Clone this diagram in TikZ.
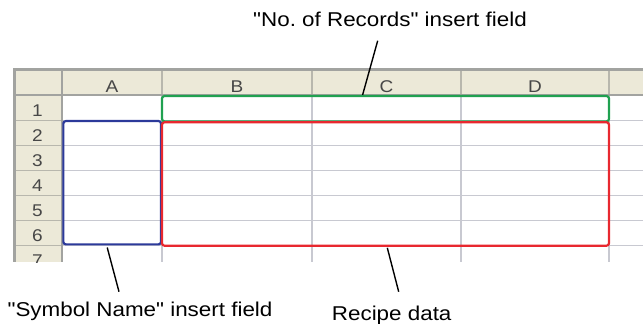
\documentclass[tikz,border=0pt]{standalone}
\usepackage{fontspec}
\setmainfont{Liberation Sans}
\newfontfamily\calloutfont[FakeStretch=1.12]{Liberation Sans}
\usetikzlibrary{positioning, calc}
\definecolor{hdrfill}{HTML}{ECE9D8}
\definecolor{gridgray}{HTML}{C8C9D1}
\definecolor{framegray}{HTML}{A2A3A0}
\definecolor{hdrline}{HTML}{B8B7AD}
\definecolor{symblue}{HTML}{2C3A9A}
\definecolor{recgreen}{HTML}{20A150}
\definecolor{recred}{HTML}{E8282F}
\frenchspacing

\begin{document}
\begin{tikzpicture}[x=1pt, y=-1pt,
    grid/.style={gridgray, line width=1.3pt},
    hdrsep/.style={hdrline, line width=1.3pt},
    hdr/.style={font=\calloutfont\fontsize{17}{17}\selectfont, text=black!72, inner sep=0pt},
    field/.style={draw, line width=2.2pt, rounded corners=2.5pt, inner sep=0pt},
    callout/.style={font=\calloutfont\fontsize{20}{22}\selectfont, inner sep=0pt},
    lead/.style={line width=1.4pt}
  ]
  \useasboundingbox (0,0) rectangle (643,324);

  % worksheet, cut off at row 7
  \begin{scope}
    \clip (0,0) rectangle (643,262);
    \fill[hdrfill] (14,69) rectangle (643,95);
    \fill[hdrfill] (14,95) rectangle (62,262);
    \foreach \i in {0,...,6}
      \draw[grid] (62,{120.7+25*\i}) -- (643,{120.7+25*\i});
    \foreach \i in {0,...,6}
      \draw[hdrsep] (14,{120.7+25*\i}) -- (62,{120.7+25*\i});
    \foreach \x in {162,312,461,609} {
      \draw[grid] (\x,95) -- (\x,262);
      \draw[hdrsep] (\x,69) -- (\x,95);
    }
    \draw[framegray, line width=1.3pt] (14,95) -- (643,95);
    \draw[framegray, line width=1.3pt] (62,69) -- (62,262);
    \draw[framegray, line width=3pt] (643,69) -- (14,69) -- (14,262);

    \foreach \col/\x in {A/112,B/237,C/386.5,D/535}
      \node[hdr, anchor=base] (hdr\col) at (\x,92) {\col};
    \foreach \r in {1,...,7}
      \node[hdr, anchor=base] (row\r) at (37.5,{116+25*(\r-1)}) {\r};
  \end{scope}

  % insert fields
  \node[field, symblue, minimum width=97.7pt, minimum height=123.3pt] (symfield) at (112.2,182.7) {};
  \node[field, recgreen, minimum width=447pt, minimum height=25.3pt] (numfield) at (385.5,108.7) {};
  \node[field, recred, minimum width=447pt, minimum height=123.4pt] (recfield) at (385.5,184) {};

  % callouts
  \node[callout, anchor=base] (numtext) at (390,27) {"No. of Records" insert field};
  \node[callout, anchor=base] (symtext) at (140,316.5) {"Symbol Name" insert field};
  \node[callout, anchor=base] (rectext) at (391.7,320) {Recipe data};

  \coordinate (numend) at (377.7,40.7);
  \coordinate (symend) at (119,291.7);
  \coordinate (recend) at (398.7,291.7);

  \draw[lead] ($(numfield.north west)!0.449!(numfield.north east)$) -- (numend);
  \draw[lead] ($(symfield.south west)!0.45!(symfield.south east)$) ++(0,2) -- (symend);
  \draw[lead] ($(recfield.south west)!0.504!(recfield.south east)$) ++(0,1) -- (recend);
\end{tikzpicture}
\end{document}
